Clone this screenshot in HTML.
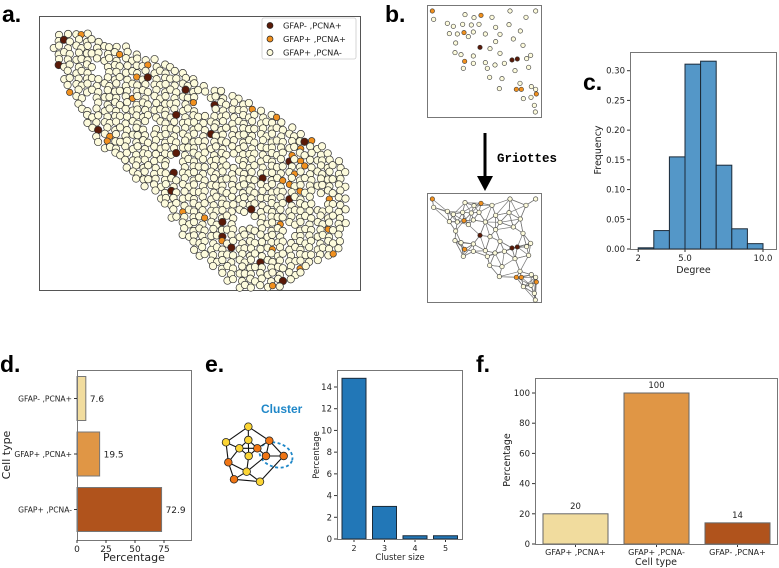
<!DOCTYPE html>
<html><head><meta charset="utf-8">
<style>
html,body{margin:0;padding:0;background:#fff;}
svg{display:block;font-family:"DejaVu Sans","Liberation Sans",sans-serif;}
.tk{font-size:8.5px;fill:#222;}
.lbl{font-size:10.5px;fill:#222;}
.pl{font-size:23px;font-weight:bold;font-family:"Liberation Sans",sans-serif;fill:#000;}
</style></head>
<body>
<svg id="fig" width="779" height="568" viewBox="0 0 779 568">
<g id="pa"></g>
<g id="pb"></g>
<g id="pc"></g>
<g id="pd"></g>
<g id="pe"></g>
<g id="pf"></g>
</svg>
<script>
// ---- data ----
const degreeBins = [2,3,4,5,6,7,8,9];
const degreeFreq = [0.002,0.031,0.155,0.311,0.316,0.141,0.034,0.009];
const degreeTicks = [2,5,10];
const degreeTickLabels = ["2","5.0","10.0"];
const freqTicks = [0,0.05,0.10,0.15,0.20,0.25,0.30];

const dCategories = ["GFAP- ,PCNA+","GFAP+ ,PCNA+","GFAP+ ,PCNA-"];
const dValues = [7.6,19.5,72.9];
const dLabels = ["7.6","19.5","72.9"];
const dTicks = [0,25,50,75];

const clusterSizes = [2,3,4,5];
const clusterPct = [14.8,3.0,0.3,0.3];
const clusterTicks = [0,2,4,6,8,10,12,14];

const fCategories = ["GFAP+ ,PCNA+","GFAP+ ,PCNA-","GFAP- ,PCNA+"];
const fValues = [20,100,14];
const fLabels = ["20","100","14"];
const fTicks = [0,20,40,60,80,100];

const C_LIGHT="#f1dc9e", C_ORANGE="#e09645", C_BROWN="#b0531c";
const NS="http://www.w3.org/2000/svg";
function mk(parent,tag,attrs,text){const e=document.createElementNS(NS,tag);for(const k in attrs){if(k==='font-size')e.style.fontSize=attrs[k];else e.setAttribute(k,attrs[k]);}if(text!==undefined)e.textContent=text;parent.appendChild(e);return e;}

const svg=document.getElementById('fig');
[["a.",2,22],["b.",385,22],["c.",583,90],["d.",0,372],["e.",205,372],["f.",476,372]].forEach(p=>{
 const t=mk(svg,'text',{x:p[1],y:p[2],class:'pl'},p[0]);
 
 
});

// ---------- Panel a ----------
(function(){
 const g=document.getElementById('pa');
 const box=mk(g,'rect',{x:39.5,y:16.5,width:321,height:274,fill:'#fff',stroke:'#555','stroke-width':1});
 
 
 const poly=[[52,36],[70,28],[110,40],[165,62],[210,85],[270,112],[315,140],[345,165],[349,215],[342,250],[305,268],[285,290],[238,290],[205,262],[178,232],[166,205],[128,172],[96,140],[72,100],[62,78],[54,58]];
 function inside(x,y){let c=false;for(let i=0,j=poly.length-1;i<poly.length;j=i++){const [xi,yi]=poly[i],[xj,yj]=poly[j];if(((yi>y)!=(yj>y))&&(x<(xj-xi)*(y-yi)/(yj-yi)+xi))c=!c;}return c;}
 const holes=[[100,68,8],[205,105,9],[175,165,7],[245,220,8],[290,230,7],[150,125,6],[90,100,5],[230,160,6],[320,200,6]];
 const cg=mk(g,'g',{});
 
 
 let idx=0;
 for(let row=0;row<46;row++){
  const y0=28+row*6.3;
  for(let col=0;col<48;col++){
   const x0=50+col*7.1+(row%2?3.55:0);
   const x=x0+1.6*Math.sin(row*3.1+col*1.7), y=y0+1.4*Math.cos(row*2.3+col*2.9);
   if(!inside(x,y))continue;
   if(holes.some(h=>Math.hypot(x-h[0],y-h[1])<h[2]))continue;
   idx++;
   let f="#fdfbdc", r=3.7;
   if(idx%43==7) f="#5a1a08"; else if(idx%29==4){f="#f0901e"; r=3.2;}
   mk(cg,'circle',{cx:x,cy:y,r:r,fill:f,stroke:'#333','stroke-width':0.7});
  }
 }
 const lg=mk(g,'g',{});
 
 
 mk(lg,'rect',{x:262,y:18,width:94,height:41,fill:'#fff',stroke:'#ccc','stroke-width':0.8,rx:2});
 [["GFAP- ,PCNA+","#5a1a08"],["GFAP+ ,PCNA+","#f0901e"],["GFAP+ ,PCNA-","#fdfbdc"]].forEach((e,i)=>{
  const y=25.5+i*13.5;
  const c=mk(lg,'circle',{cx:270,cy:y,r:3,fill:e[1],stroke:'#222','stroke-width':0.7});
  
  
  const t=mk(lg,'text',{x:283,y:y+3.2,class:'tk','font-size':'8.3px'},e[0]);
  
  
 });
})();

// ---------- Panel b ----------
(function(){
 const g=document.getElementById('pb');
 const pts=[[97,33,'o'],[101,58],[195,44],[222,53],[243,46,'o'],[276,52],[330,33],[378,52],[407,33],[142,70],[160,79],[188,73],[214,75],[237,73],[192,98,'o'],[148,101],[172,102],[205,110],[220,96],[256,102],[287,82],[300,103],[327,74],[361,93],[167,129],[240,142,'d'],[270,146],[287,125],[340,117],[369,136],[300,160],[165,158],[183,164],[220,168],[194,184,'o'],[190,205],[220,190],[256,188],[262,205],[285,195],[313,190],[336,180,'d'],[352,177,'d'],[380,176],[392,166],[386,202],[345,212],[269,232],[306,236],[360,250],[349,268,'o'],[364,268,'o'],[298,266],[394,260],[407,268],[409,282,'o'],[393,292],[370,296],[403,316],[406,336]];
 const P=pts.map(p=>({x:400+p[0]/3,y:p[1]/3,t:p[2]||'w'}));
 const col={w:'#fdfbdc',o:'#f0901e',d:'#5a1a08'};
 function drawBox(dy,edges,name){
  const gg=mk(g,'g',{});
  
  
  mk(gg,'rect',{x:427.5,y:5.5+dy,width:114,height:dy?109:112,fill:'#fff',stroke:'#777','stroke-width':1});
  if(edges){
   P.forEach((a,i)=>{
    const d=P.map((b,j)=>({j,d:Math.hypot(a.x-b.x,a.y-b.y)})).filter(o=>o.j!==i).sort((u,v)=>u.d-v.d).slice(0,5);
    d.forEach(o=>{if(o.d<24){const b=P[o.j];mk(gg,'line',{x1:a.x,y1:a.y+dy,x2:b.x,y2:b.y+dy,stroke:'#777','stroke-width':0.7});}});
   });
  }
  P.forEach(p=>{if(p.y+dy<302)mk(gg,'circle',{cx:p.x,cy:p.y+dy,r:2.2,fill:col[p.t],stroke:'#333','stroke-width':0.6});});
 }
 drawBox(0,false,'cells-scatter');
 drawBox(188,true,'cells-graph');
 const ar=mk(g,'g',{});
 
 
 mk(ar,'line',{x1:485,y1:133,x2:485,y2:178,stroke:'#000','stroke-width':3});
 mk(ar,'polygon',{points:'477,176 493,176 485,191',fill:'#000'});
 const t=mk(g,'text',{x:497,y:162,'font-family':'"Liberation Mono",monospace','font-weight':'bold','font-size':'12.5px'},'Griottes');
 
 
})();

// ---------- Panel c ----------
(function(){
 const g=document.getElementById('pc');
 const L=630,R=777,T=52,B=249;
 const xs=v=>685+(v-5)*15.6, ys=v=>B-v*(B-70.7)/0.30;
 const bars=mk(g,'g',{});
 
 
 degreeBins.forEach((b,i)=>{
  const r=mk(bars,'rect',{x:xs(b),y:ys(degreeFreq[i]),width:xs(b+1)-xs(b),height:B-ys(degreeFreq[i]),fill:'#5497c8',stroke:'#1b2a38','stroke-width':1});
  
  
 });
 mk(g,'rect',{x:L+.5,y:T+.5,width:R-L-1,height:B-T,fill:'none',stroke:'#777','stroke-width':1});
 freqTicks.forEach(v=>{const y=ys(v);mk(g,'line',{x1:L,x2:L-3,y1:y,y2:y,stroke:'#333'});
  const t=mk(g,'text',{x:L-5,y:y+3,class:'tk'},v.toFixed(2));
  t.setAttribute('text-anchor','end');
  
  });
 degreeTicks.forEach((v,i)=>{const x=xs(v);mk(g,'line',{x1:x,x2:x,y1:B,y2:B+3,stroke:'#333'});
  const t=mk(g,'text',{x:x,y:B+12,class:'tk','text-anchor':'middle'},degreeTickLabels[i]);
  
  });
 const xl=mk(g,'text',{x:(L+R)/2-10,y:273,class:'tk','text-anchor':'middle','font-size':'9.5px'},'Degree');
 
 const yl=mk(g,'text',{x:0,y:0,class:'tk','text-anchor':'middle',transform:'translate(601,150) rotate(-90)','font-size':'9.5px'},'Frequency');
 
})();

// ---------- Panel d ----------
(function(){
 const g=document.getElementById('pd');
 const L=77,R=192,T=370,B=540;
 const xs=v=>L+v*(164-L)/75;
 const cols=[C_LIGHT,C_ORANGE,C_BROWN];
 dCategories.forEach((c,i)=>{
  const yc=398.5+i*55.5;
  const r=mk(g,'rect',{x:L,y:yc-22,width:xs(dValues[i])-L,height:44,fill:cols[i],stroke:'#777','stroke-width':1});
  
  
  const v=mk(g,'text',{x:xs(dValues[i])+4,y:yc+3.5,class:'tk','font-size':'9px'},dLabels[i]);
  
  mk(g,'line',{x1:L,x2:L-3,y1:yc,y2:yc,stroke:'#333'});
  const t=mk(g,'text',{x:L-5,y:yc+3,class:'tk','text-anchor':'end','font-size':'7.6px'},c);
  
 });
 mk(g,'rect',{x:L+.5,y:T+.5,width:R-L-1,height:B-T,fill:'none',stroke:'#777','stroke-width':1});
 dTicks.forEach(v=>{const x=xs(v);mk(g,'line',{x1:x,x2:x,y1:B,y2:B+3,stroke:'#333'});
  const t=mk(g,'text',{x:x,y:B+12,class:'tk','text-anchor':'middle','font-size':'9px'},String(v));
  });
 const xl=mk(g,'text',{x:134,y:561,class:'lbl','text-anchor':'middle','font-size':'11px'},'Percentage');
 
 const yl=mk(g,'text',{x:0,y:0,class:'lbl','text-anchor':'middle',transform:'translate(10,455) rotate(-90)','font-size':'11px'},'Cell type');
 
})();

// ---------- Panel e ----------
(function(){
 const g=document.getElementById('pe');
 const ng=mk(g,'g',{});
 
 
 const nodes=[[745,350,'y'],[678,397,'y'],[745,390,'y'],[718,415,'y'],[808,392,'o'],[772,415,'o'],[746,438,'y'],[798,438,'o'],[851,438,'o'],[685,457,'o'],[740,485,'y'],[702,508,'o'],[780,515,'y']].map(n=>[n[0]/3,310+n[1]/3,n[2]]);
 const edges=[[0,1],[0,2],[0,4],[1,3],[1,9],[2,3],[2,5],[2,6],[3,6],[3,9],[4,5],[4,7],[4,8],[5,7],[5,6],[7,8],[6,10],[7,10],[8,12],[9,10],[9,11],[10,11],[11,12],[10,12],[3,5]];
 mk(ng,'ellipse',{cx:276,cy:455,rx:17,ry:12,fill:'none',stroke:'#1f87c8','stroke-width':1.8,'stroke-dasharray':'3,2.5',transform:'rotate(20 276 455)'});
 edges.forEach(e=>{const a=nodes[e[0]],b=nodes[e[1]];mk(ng,'line',{x1:a[0],y1:a[1],x2:b[0],y2:b[1],stroke:'#111','stroke-width':1.1});});
 nodes.forEach(n=>mk(ng,'circle',{cx:n[0],cy:n[1],r:3.8,fill:n[2]=='y'?'#fcd534':'#f07514',stroke:'#222','stroke-width':0.8}));
 const ct=mk(g,'text',{x:261,y:413,'font-family':'"Liberation Sans",sans-serif','font-weight':'bold','font-size':'12px',fill:'#1f87c8'},'Cluster');
 
 const L=337,R=463,T=370,B=539;
 const ys=v=>B-v*(B-387)/14, xs=s=>354+(s-2)*30.5;
 clusterSizes.forEach((s,i)=>{
  const r=mk(g,'rect',{x:xs(s)-12,y:ys(clusterPct[i]),width:24,height:B-ys(clusterPct[i]),fill:'#2277b7',stroke:'#1b2a38','stroke-width':1});
  
  mk(g,'line',{x1:xs(s),x2:xs(s),y1:B,y2:B+3,stroke:'#333'});
  const t=mk(g,'text',{x:xs(s),y:B+12,class:'tk','text-anchor':'middle','font-size':'8px'},String(s));
  
 });
 mk(g,'rect',{x:L+.5,y:T+.5,width:R-L-1,height:B-T,fill:'none',stroke:'#777','stroke-width':1});
 clusterTicks.forEach(v=>{const y=ys(v);mk(g,'line',{x1:L,x2:L-3,y1:y,y2:y,stroke:'#333'});
  const t=mk(g,'text',{x:L-5,y:y+3,class:'tk','text-anchor':'end'},String(v));
  });
 const xl=mk(g,'text',{x:400,y:560,class:'tk','text-anchor':'middle'},'Cluster size');
 
 const yl=mk(g,'text',{x:0,y:0,class:'tk','text-anchor':'middle',transform:'translate(319,455) rotate(-90)'},'Percentage');
 
})();

// ---------- Panel f ----------
(function(){
 const g=document.getElementById('pf');
 const L=535,R=778,T=378,B=544;
 const ys=v=>B-v*(B-393)/100;
 const cols=[C_LIGHT,C_ORANGE,C_BROWN];
 const step=(R-L)/3;
 fCategories.forEach((c,i)=>{
  const xc=L+step*(i+0.5);
  const r=mk(g,'rect',{x:xc-32.5,y:ys(fValues[i]),width:65,height:B-ys(fValues[i]),fill:cols[i],stroke:'#666','stroke-width':1});
  
  const v=mk(g,'text',{x:xc,y:ys(fValues[i])-5,class:'tk','text-anchor':'middle'},fLabels[i]);
  
  mk(g,'line',{x1:xc,x2:xc,y1:B,y2:B+3,stroke:'#333'});
  const t=mk(g,'text',{x:xc,y:B+11,class:'tk','text-anchor':'middle','font-size':'8px'},c);
  
 });
 mk(g,'rect',{x:L+.5,y:T+.5,width:R-L-1,height:B-T,fill:'none',stroke:'#777','stroke-width':1});
 fTicks.forEach(v=>{const y=ys(v);mk(g,'line',{x1:L,x2:L-3,y1:y,y2:y,stroke:'#333'});
  const t=mk(g,'text',{x:L-5,y:y+3,class:'tk','text-anchor':'end'},String(v));
  });
 const xl=mk(g,'text',{x:656,y:565,class:'lbl','text-anchor':'middle','font-size':'9.5px'},'Cell type');
 
 const yl=mk(g,'text',{x:0,y:0,class:'lbl','text-anchor':'middle',transform:'translate(510,460) rotate(-90)','font-size':'9.5px'},'Percentage');
 
})();
</script>
</body></html>
